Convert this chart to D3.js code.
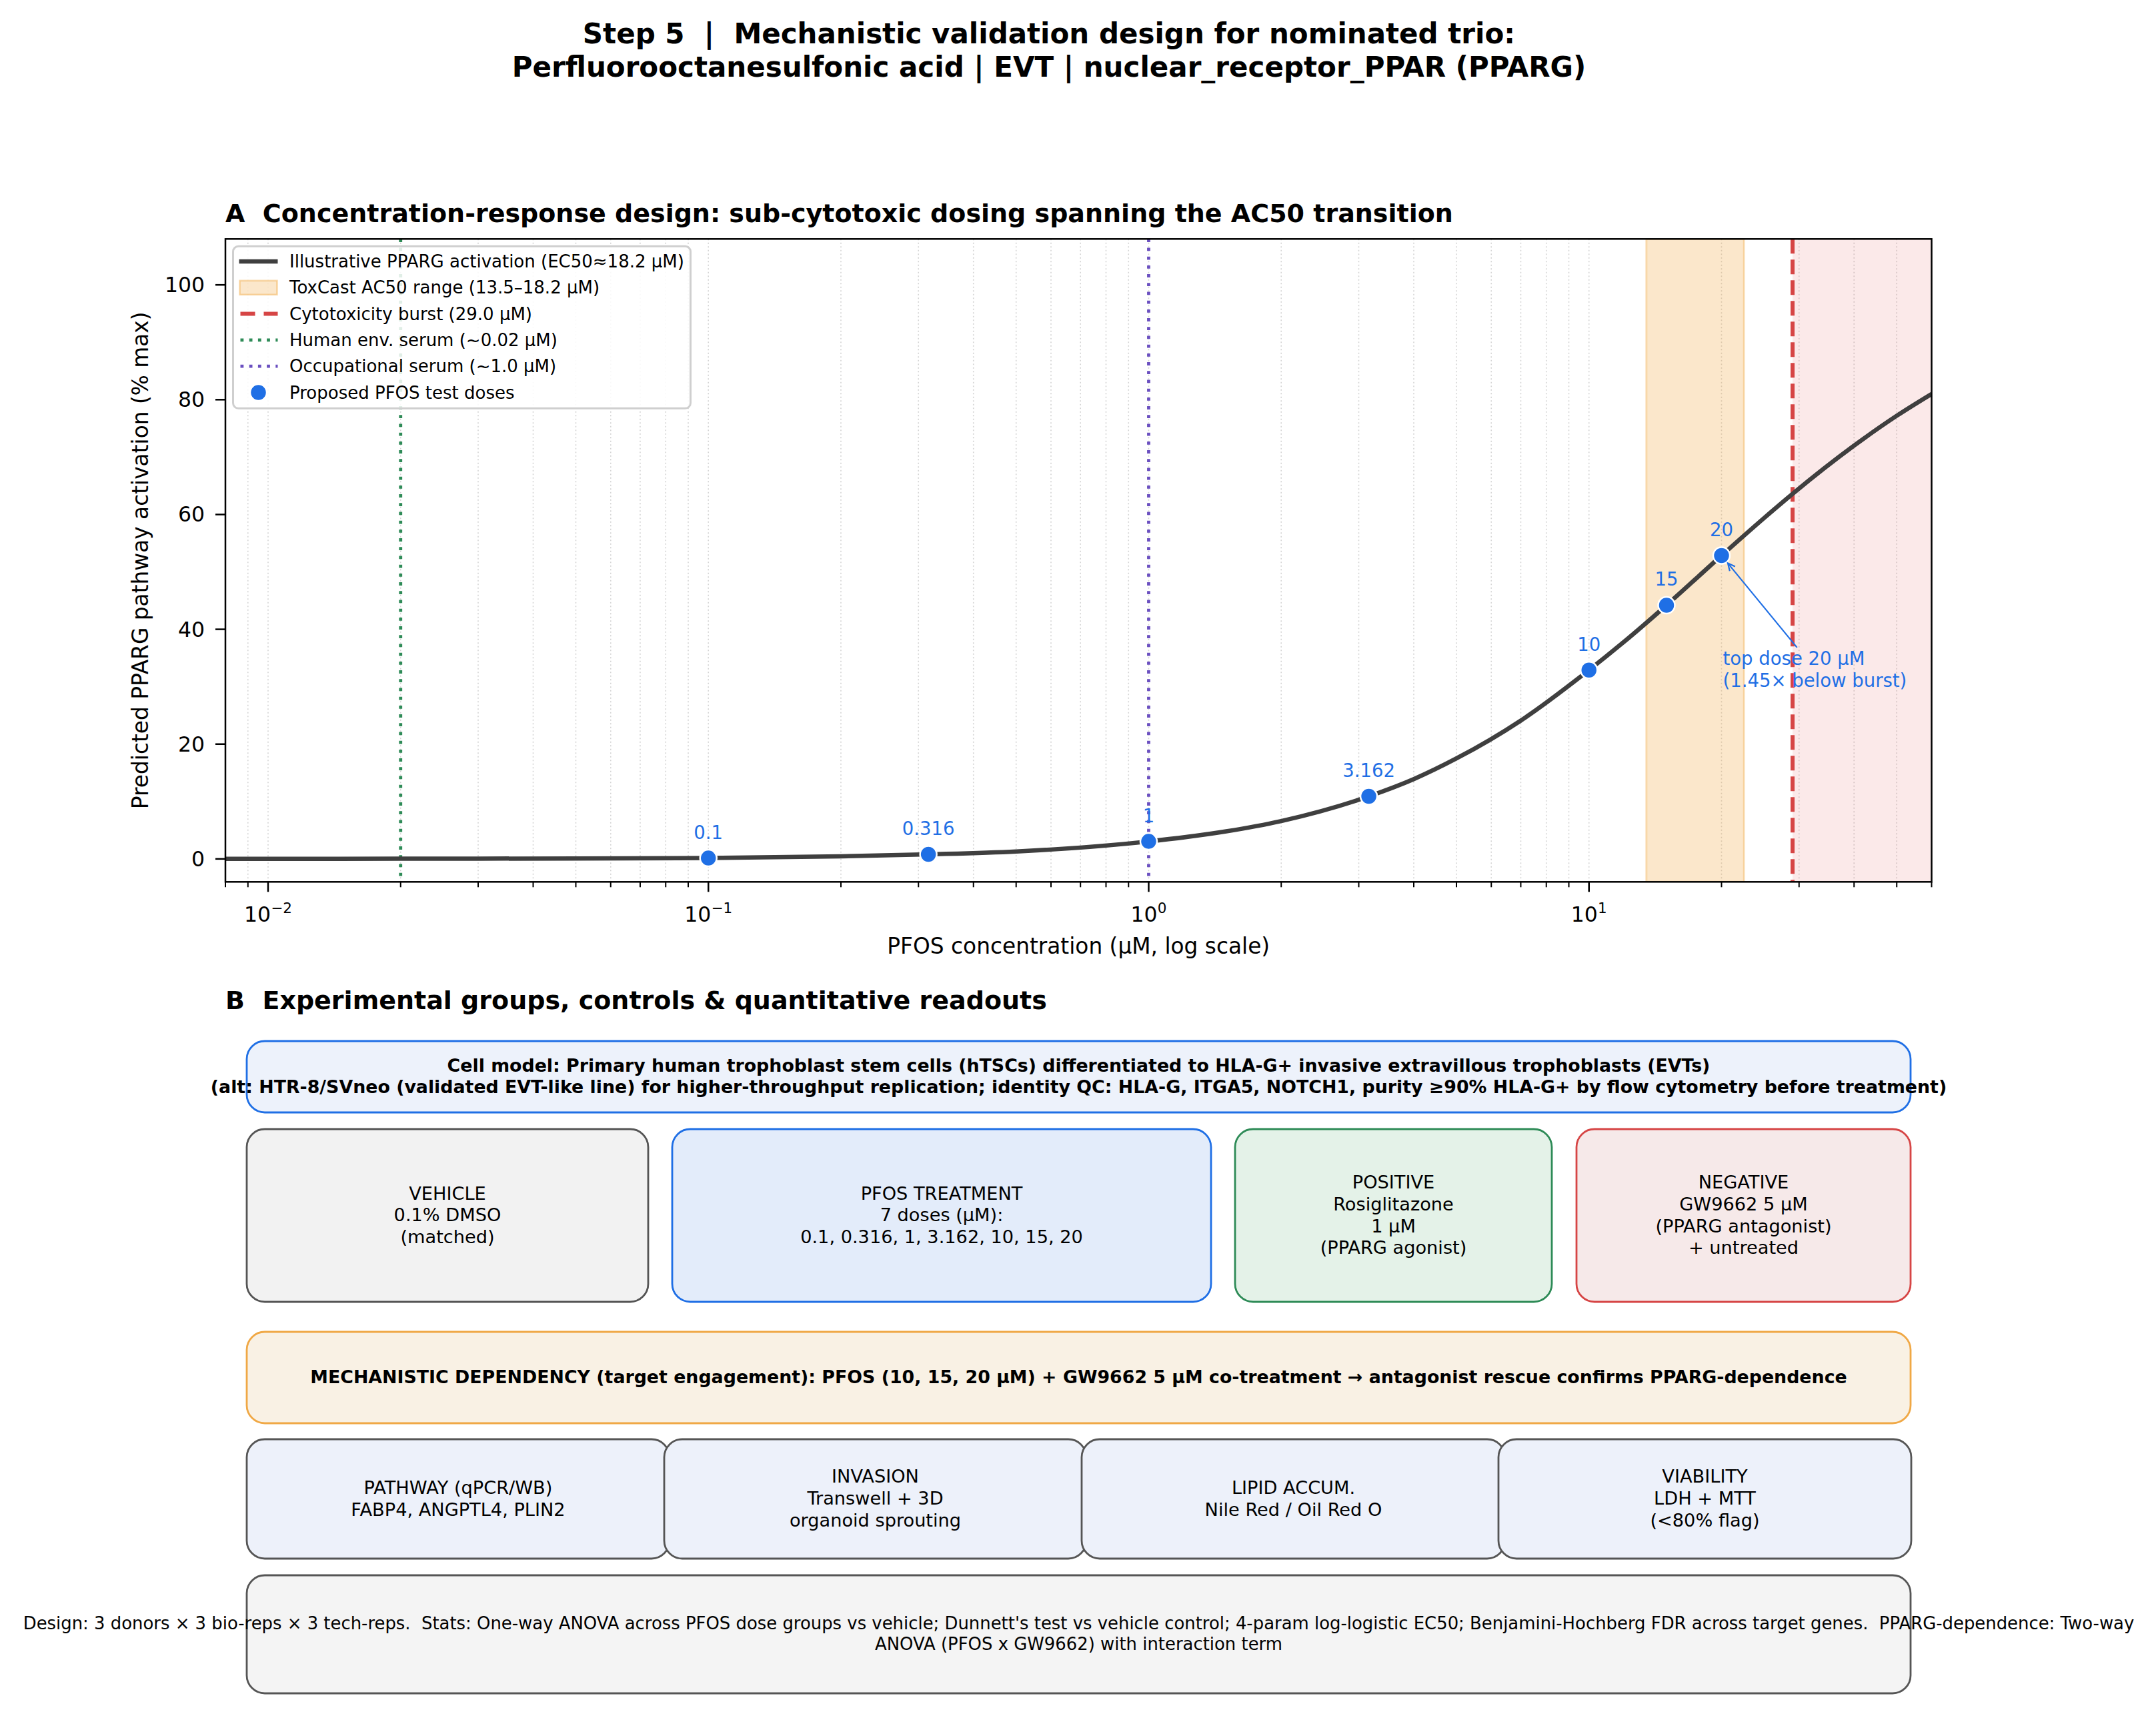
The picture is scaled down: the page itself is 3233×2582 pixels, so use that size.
<!DOCTYPE html>
<html><head><meta charset="utf-8">
<script src="https://cdn.jsdelivr.net/npm/d3@7"></script>
<style>body{margin:0;background:#fff} text{font-family:"DejaVu Sans",sans-serif; white-space:pre}</style>
</head><body>
<svg id="c" width="3233" height="2582" xmlns="http://www.w3.org/2000/svg"></svg>
<script>
// ---------------- DATA ----------------
const titleLines = ["Step 5  |  Mechanistic validation design for nominated trio:",
                    "Perfluorooctanesulfonic acid | EVT | nuclear_receptor_PPAR (PPARG)"];
const panelATitle = "A  Concentration-response design: sub-cytotoxic dosing spanning the AC50 transition";
const panelBTitle = "B  Experimental groups, controls & quantitative readouts";
const xLabel = "PFOS concentration (μM, log scale)";
const yLabel = "Predicted PPARG pathway activation (% max)";

// illustrative activation curve
const curveConc = [0.008, 0.02, 0.05, 0.1, 0.2, 0.316, 0.5, 1, 1.5, 2, 3.162, 4, 5, 7, 10, 12, 15, 20, 25, 29, 40, 50, 60];
const curveResp = [0.01, 0.03, 0.08, 0.15, 0.45, 0.8, 1.3, 3.05, 4.8, 6.6, 10.9, 13.9, 17.5, 24.1, 32.9, 37.8, 44.2, 52.85, 59.4, 63.6, 72.0, 77.2, 81.0];

// proposed test doses
const doseConc = [0.1, 0.316, 1, 3.162, 10, 15, 20];
const doseResp = [0.15, 0.8, 3.05, 10.9, 32.9, 44.2, 52.85];
const doseLabels = ["0.1", "0.316", "1", "3.162", "10", "15", "20"];

const envSerum = 0.02, occSerum = 1.0, cytoBurst = 29.0;
const ac50Band = [13.5, 22.5];
const xDomain = [0.008, 60];
const yDomain = [-4, 108];
const xMajorTicks = [0.01, 0.1, 1, 10];
const xTickExp = ["\u22122", "\u22121", "0", "1"];
const yTicks = [0, 20, 40, 60, 80, 100];

const legendLabels = ["Illustrative PPARG activation (EC50≈18.2 μM)",
  "ToxCast AC50 range (13.5–18.2 μM)",
  "Cytotoxicity burst (29.0 μM)",
  "Human env. serum (~0.02 μM)",
  "Occupational serum (~1.0 μM)",
  "Proposed PFOS test doses"];
const annotTarget = [20, 52.85];
const annotTextPos = [20, 33];
const annotLines = ["top dose 20 μM", "(1.45× below burst)"];

const cellModelLines = ["Cell model: Primary human trophoblast stem cells (hTSCs) differentiated to HLA-G+ invasive extravillous trophoblasts (EVTs)",
  "(alt: HTR-8/SVneo (validated EVT-like line) for higher-throughput replication; identity QC: HLA-G, ITGA5, NOTCH1, purity ≥90% HLA-G+ by flow cytometry before treatment)"];
const groupLines = [
  ["VEHICLE", "0.1% DMSO", "(matched)"],
  ["PFOS TREATMENT", "7 doses (μM):", "0.1, 0.316, 1, 3.162, 10, 15, 20"],
  ["POSITIVE", "Rosiglitazone", "1 μM", "(PPARG agonist)"],
  ["NEGATIVE", "GW9662 5 μM", "(PPARG antagonist)", "+ untreated"]];
const mechLine = "MECHANISTIC DEPENDENCY (target engagement): PFOS (10, 15, 20 μM) + GW9662 5 μM co-treatment → antagonist rescue confirms PPARG-dependence";
const readoutLines = [
  ["PATHWAY (qPCR/WB)", "FABP4, ANGPTL4, PLIN2"],
  ["INVASION", "Transwell + 3D", "organoid sprouting"],
  ["LIPID ACCUM.", "Nile Red / Oil Red O"],
  ["VIABILITY", "LDH + MTT", "(<80% flag)"]];
const designLines = ["Design: 3 donors × 3 bio-reps × 3 tech-reps.  Stats: One-way ANOVA across PFOS dose groups vs vehicle; Dunnett's test vs vehicle control; 4-param log-logistic EC50; Benjamini-Hochberg FDR across target genes.  PPARG-dependence: Two-way",
  "ANOVA (PFOS x GW9662) with interaction term"];

// ---------------- STYLE ----------------
const BLUE = "#1f6fe5", DARK = "#3f3f3f", RED = "#d64545", GREEN = "#2e8b57", PURPLE = "#6a4fc0";
const svg = d3.select("#c");
svg.append("rect").attr("width", 3233).attr("height", 2582).attr("fill", "#fff");

// ---------------- TITLES ----------------
titleLines.forEach((t, i) => svg.append("text").attr("x", 1573).attr("y", 65 + i * 50)
  .attr("text-anchor", "middle").attr("font-size", 42).attr("font-weight", "bold").text(t));

// ---------------- PANEL A ----------------
const L = 338, R = 2896.5, T = 358.3, B = 1322.3;
const x = d3.scaleLog().domain(xDomain).range([L, R]);
const y = d3.scaleLinear().domain(yDomain).range([B, T]);

svg.append("text").attr("x", L).attr("y", 333).attr("font-size", 38).attr("font-weight", "bold").text(panelATitle);

const gA = svg.append("g");
gA.append("clipPath").attr("id", "clipA").append("rect").attr("x", L).attr("y", T).attr("width", R - L).attr("height", B - T);
const plot = gA.append("g").attr("clip-path", "url(#clipA)");

// grid (major + minor, vertical)
plot.selectAll(".grid").data(x.ticks()).enter().append("line")
  .attr("x1", d => x(d)).attr("x2", d => x(d)).attr("y1", T).attr("y2", B)
  .attr("stroke", "#d4d4d4").attr("stroke-width", 1.6).attr("stroke-dasharray", "2,3.5");

// regions
plot.append("rect").attr("x", x(cytoBurst)).attr("y", T).attr("width", x(xDomain[1]) - x(cytoBurst)).attr("height", B - T)
  .attr("fill", "#d62728").attr("fill-opacity", 0.1);
plot.append("rect").attr("x", x(ac50Band[0])).attr("y", T).attr("width", x(ac50Band[1]) - x(ac50Band[0])).attr("height", B - T)
  .attr("fill", "#f0a030").attr("fill-opacity", 0.25).attr("stroke", "#f0a030").attr("stroke-opacity", 0.3).attr("stroke-width", 3);

// reference lines
const vline = (v, color, dash, w) => plot.append("line").attr("x1", x(v)).attr("x2", x(v)).attr("y1", T).attr("y2", B)
  .attr("stroke", color).attr("stroke-width", w).attr("stroke-dasharray", dash);
vline(envSerum, GREEN, "4.8,8.4", 4.8);
vline(occSerum, PURPLE, "4.8,8.4", 4.8);
vline(cytoBurst, RED, "22,9", 6);

// curve
const line = d3.line().x((d, i) => x(curveConc[i])).y((d, i) => y(curveResp[i])).curve(d3.curveMonotoneX);
plot.append("path").datum(curveConc).attr("d", line).attr("fill", "none").attr("stroke", DARK).attr("stroke-width", 6.5);

// dose points
plot.selectAll(".dose").data(doseConc).enter().append("circle")
  .attr("cx", d => x(d)).attr("cy", (d, i) => y(doseResp[i])).attr("r", 12.5)
  .attr("fill", BLUE).attr("stroke", "#fff").attr("stroke-width", 2.5);
plot.selectAll(".dl").data(doseConc).enter().append("text")
  .attr("x", d => x(d)).attr("y", (d, i) => y(doseResp[i]) - 29)
  .attr("text-anchor", "middle").attr("font-size", 27.5).attr("fill", BLUE).text((d, i) => doseLabels[i]);

// annotation
const annG = plot.append("g");
const at = annG.append("text").attr("font-size", 27.5).attr("fill", BLUE);
annotLines.forEach((t, i) => at.append("tspan").attr("x", x(annotTextPos[0]) + 2)
  .attr("y", y(annotTextPos[1]) - 7 + i * 33).text(t));
{
  const bb = at.node().getBBox();
  const cx = bb.x + bb.width / 2, cy = bb.y + bb.height / 2;
  const tx = x(annotTarget[0]), ty = y(annotTarget[1]);
  const dx = tx - cx, dy = ty - cy;
  const t0 = (bb.y - cy) / dy;
  const sx = cx + dx * t0, sy = cy + dy * t0;
  const len = Math.hypot(tx - sx, ty - sy);
  const ux = (tx - sx) / len, uy = (ty - sy) / len;
  const ex = tx - ux * 15, ey = ty - uy * 15;
  annG.append("line").attr("x1", sx).attr("y1", sy).attr("x2", ex).attr("y2", ey).attr("stroke", BLUE).attr("stroke-width", 2.2);
  const hl = 12, ang = 0.45;
  const a = Math.atan2(-uy, -ux);
  annG.append("path").attr("d", `M${ex + hl * Math.cos(a + ang)},${ey + hl * Math.sin(a + ang)} L${ex},${ey} L${ex + hl * Math.cos(a - ang)},${ey + hl * Math.sin(a - ang)}`)
    .attr("fill", "none").attr("stroke", BLUE).attr("stroke-width", 2.2);
}

// legend
const lg = gA.append("g");
const lgX = L + 11.5, lgY = T + 11, lgW = 686, lgH = 243, rowH = 39.3;
lg.append("rect").attr("x", lgX).attr("y", lgY).attr("width", lgW).attr("height", lgH).attr("rx", 8)
  .attr("fill", "#fff").attr("fill-opacity", 0.85).attr("stroke", "#cfcfcf").attr("stroke-width", 3);
legendLabels.forEach((lab, i) => {
  const cy = lgY + 22.7 + i * rowH, hx0 = lgX + 9, hx1 = lgX + 67;
  if (i === 0) lg.append("line").attr("x1", hx0).attr("x2", hx1).attr("y1", cy).attr("y2", cy).attr("stroke", DARK).attr("stroke-width", 6.5);
  if (i === 1) lg.append("rect").attr("x", hx0 + 1).attr("y", cy - 10.5).attr("width", hx1 - hx0 - 2).attr("height", 21)
    .attr("fill", "#f0a030").attr("fill-opacity", 0.25).attr("stroke", "#f0a030").attr("stroke-opacity", 0.4).attr("stroke-width", 2.5);
  if (i === 2) lg.append("line").attr("x1", hx0 + 2).attr("x2", hx1).attr("y1", cy).attr("y2", cy).attr("stroke", RED).attr("stroke-width", 6).attr("stroke-dasharray", "22,13");
  if (i === 3) lg.append("line").attr("x1", hx0 + 2).attr("x2", hx1).attr("y1", cy).attr("y2", cy).attr("stroke", GREEN).attr("stroke-width", 4.8).attr("stroke-dasharray", "4.8,8.4");
  if (i === 4) lg.append("line").attr("x1", hx0 + 2).attr("x2", hx1).attr("y1", cy).attr("y2", cy).attr("stroke", PURPLE).attr("stroke-width", 4.8).attr("stroke-dasharray", "4.8,8.4");
  if (i === 5) lg.append("circle").attr("cx", (hx0 + hx1) / 2).attr("cy", cy).attr("r", 12.5).attr("fill", BLUE).attr("stroke", "#fff").attr("stroke-width", 2.5);
  lg.append("text").attr("x", lgX + 84.5).attr("y", cy + 9).attr("font-size", 26).text(lab);
});

// axes ticks
const ax = svg.append("g").attr("stroke", "#000");
x.ticks().forEach(v => {
  const major = xMajorTicks.some(m => Math.abs(m - v) / m < 1e-6);
  ax.append("line").attr("x1", x(v)).attr("x2", x(v)).attr("y1", B).attr("y2", B + (major ? 15 : 8)).attr("stroke-width", major ? 2.5 : 2);
});
xMajorTicks.forEach((v, i) => {
  const t = svg.append("text").attr("x", x(v)).attr("y", 1382).attr("text-anchor", "middle").attr("font-size", 31.5);
  t.append("tspan").text("10");
  t.append("tspan").attr("dy", -13).attr("font-size", 21.5).text(xTickExp[i]);
});
yTicks.forEach(v => {
  ax.append("line").attr("x1", L - 15).attr("x2", L).attr("y1", y(v)).attr("y2", y(v)).attr("stroke-width", 2.5);
  svg.append("text").attr("x", 307).attr("y", y(v) + 11).attr("text-anchor", "end").attr("font-size", 31.5).text(v);
});
svg.append("rect").attr("x", L).attr("y", T).attr("width", R - L).attr("height", B - T).attr("fill", "none").attr("stroke", "#000").attr("stroke-width", 2.5);
svg.append("text").attr("x", (L + R) / 2).attr("y", 1430).attr("text-anchor", "middle").attr("font-size", 32.8).text(xLabel);
svg.append("text").attr("transform", `translate(222,${(T + B) / 2}) rotate(-90)`).attr("text-anchor", "middle").attr("font-size", 32.8).text(yLabel);

// ---------------- PANEL B ----------------
svg.append("text").attr("x", L).attr("y", 1513).attr("font-size", 38).attr("font-weight", "bold").text(panelBTitle);

function box(x0, y0, x1, y1, fill, stroke, lines, fs, lh, weight) {
  svg.append("rect").attr("x", x0).attr("y", y0).attr("width", x1 - x0).attr("height", y1 - y0).attr("rx", 27).attr("ry", 27)
    .attr("fill", fill).attr("stroke", stroke).attr("stroke-width", 2.8);
  const cx = (x0 + x1) / 2, cy = (y0 + y1) / 2;
  const t = svg.append("text").attr("text-anchor", "middle").attr("font-size", fs).attr("font-weight", weight || "normal");
  lines.forEach((s, i) => t.append("tspan").attr("x", cx).attr("y", cy - (lines.length - 1) * lh / 2 + 0.32 * fs + i * lh).text(s));
}
box(370, 1561, 2865, 1668, "#edf2fb", BLUE, cellModelLines, 26.8, 32, "bold");
const gFill = ["#f2f2f2", "#e3ecfa", "#e4f2e8", "#f6e9e9"], gStroke = ["#555", BLUE, GREEN, RED];
const gX = [[370, 972], [1008, 1816], [1852, 2327], [2364, 2865]];
groupLines.forEach((ls, i) => box(gX[i][0], 1693, gX[i][1], 1952, gFill[i], gStroke[i], ls, 27.2, 32.7));
box(370, 1997, 2865, 2134, "#f9f1e4", "#f0a845", [mechLine], 26.8, 32, "bold");
const rX = [[370, 1004], [996, 1629], [1622, 2257], [2247, 2866]];
readoutLines.forEach((ls, i) => box(rX[i][0], 2158, rX[i][1], 2337, "#edf1fa", "#555", ls, 27.2, 33));
box(370, 2362, 2865, 2539, "#f4f4f4", "#555", designLines, 25.9, 31);
</script>
</body></html>
